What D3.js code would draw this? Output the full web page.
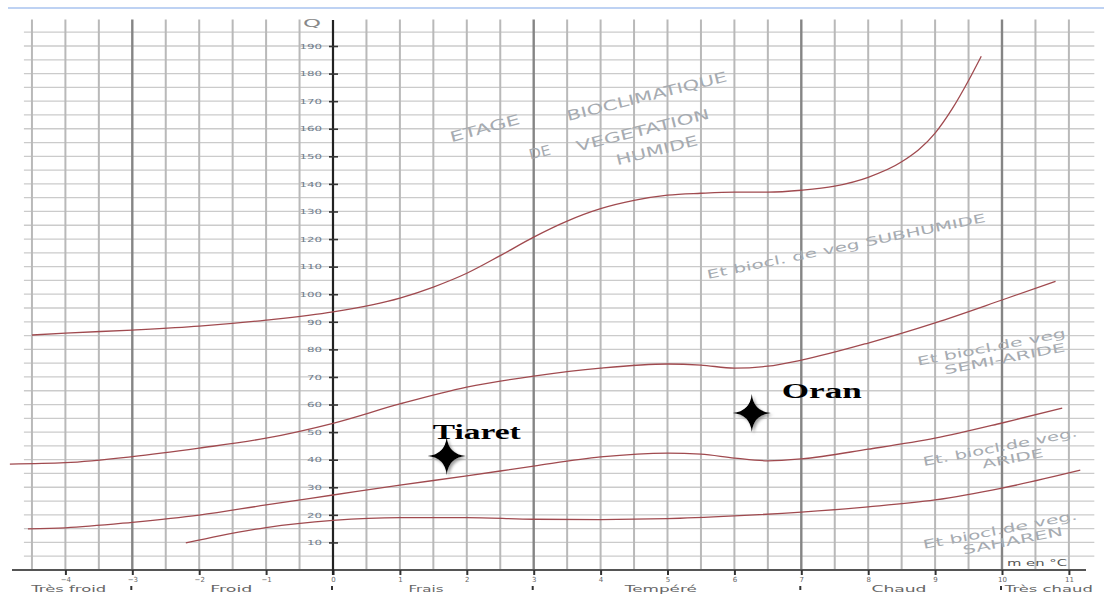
<!DOCTYPE html>
<html>
<head>
<meta charset="utf-8">
<script src="https://cdn.jsdelivr.net/npm/d3@7"></script>
<style>
  body { margin: 0; background: #fff; }
  svg { display: block; }
</style>
</head>
<body>
<svg id="chart" width="1104" height="601"></svg>
<script>
// Emberger climagram: pluviothermic quotient Q against m (mean minimum of the coldest month, °C)

// Boundary curves between bioclimatic stages, as [m, Q]
const limitHumide = [[-4.5,85.2],[-4,85.9],[-3,87],[-2,88.4],[-1,90.6],[0,93.6],[1,98.6],[1.5,102.6],[2,107.6],[2.5,114],[3,120.7],[3.5,126.5],[4,131],[4.5,134],[5,135.9],[5.5,136.6],[6,137],[6.5,137],[7,137.7],[7.5,139.2],[8,142.4],[8.5,148],[9,158.4],[9.25,167],[9.5,177.5],[9.69,186.3]];
const limitSubhumide = [[-4.83,38.4],[-4,38.9],[-3,41.1],[-2,44.2],[-1,47.8],[0,53.2],[1,60.2],[2,66.3],[3,70.3],[4,73.2],[5,74.7],[5.5,74.3],[6,73.2],[6.5,73.9],[7,76.1],[8,82.3],[9,89.6],[10,97.9],[10.8,104.7]];
const limitSemiAride = [[-4.56,14.9],[-4,15.3],[-3,17.3],[-2,19.9],[-1,23.6],[0,27.2],[1,30.8],[2,34.1],[3,37.7],[4,41],[5,42.4],[5.5,42],[6,40.6],[6.5,39.6],[7,40.3],[8,43.8],[9,47.8],[10,53.3],[10.9,58.7]];
const limitAride = [[-2.2,9.8],[-1.7,12.4],[-1,15.4],[0,18],[1,19],[2,19],[3,18.4],[4,18.3],[5,18.6],[6,19.6],[7,21],[8,22.9],[9,25.4],[10,29.7],[11.17,36.2]];

// Stations
const stationNames = ["Tiaret", "Oran"];
const stationM = [1.7, 6.26];
const stationQ = [41.3, 56.9];

// Axis ticks
const mTicks = [-4,-3,-2,-1,0,1,2,3,4,5,6,7,8,9,10,11];
const qTicks = [10,20,30,40,50,60,70,80,90,100,110,120,130,140,150,160,170,180,190];

// Thermal variants along m
const zoneNames = ["Très froid","Froid","Frais","Tempéré","Chaud","Très chaud"];
const zoneCenters = [-3.95,-1.52,1.39,4.9,8.46,10.7];
const zoneBounds = [-3,0,3,7,10];

// Stage labels (rotated text written on the diagram)
const stageLabels = [
  {t:"ETAGE", m:2.27, q:160.2, a:-15, len:72, fs:14},
  {t:"BIOCLIMATIQUE", m:4.69, q:171.8, a:-14, len:165, fs:14},
  {t:"DE", m:3.09, q:151.5, a:-14, len:22, fs:14},
  {t:"VEGETATION", m:4.63, q:159.5, a:-14, len:137, fs:14},
  {t:"HUMIDE", m:4.84, q:152.2, a:-14, len:84, fs:14},
  {t:"Et biocl. de veg SUBHUMIDE", m:7.67, q:117.4, a:-11.6, len:284, fs:12},
  {t:"Et biocl.de veg", m:9.84, q:80.8, a:-11, len:151, fs:12},
  {t:"SEMI-ARIDE", m:10.04, q:76.6, a:-11, len:123, fs:12},
  {t:"Et. biocl.de veg.", m:9.97, q:44.6, a:-11, len:157, fs:12},
  {t:"ARIDE", m:10.16, q:40.4, a:-11, len:62, fs:12},
  {t:"Et biocl.de veg.", m:9.97, q:14.5, a:-11, len:157, fs:12},
  {t:"SAHAREN", m:10.16, q:10.6, a:-11, len:102, fs:12}
];

const svg = d3.select("#chart");
const x = d3.scaleLinear().domain([0, 10]).range([333, 1002]);
const y = d3.scaleLinear().domain([0, 190]).range([570, 46]);

svg.append("rect").attr("width", 1104).attr("height", 601).attr("fill", "#fff");

// top rule
svg.append("line").attr("x1", 8).attr("x2", 1104).attr("y1", 8).attr("y2", 8)
  .attr("stroke", "#a9c3ef").attr("stroke-width", 1.5);

const defs = svg.append("defs");
const f = defs.append("filter").attr("id", "shadow").attr("x", "-50%").attr("y", "-50%").attr("width", "200%").attr("height", "200%");
f.append("feDropShadow").attr("dx", 2).attr("dy", 2).attr("stdDeviation", 1.6).attr("flood-color", "#777").attr("flood-opacity", 0.7);

// grid
const grid = svg.append("g");
grid.selectAll("line.h").data(d3.range(5, 196, 5)).join("line")
  .attr("x1", x(-4.62)).attr("x2", x(11.38))
  .attr("y1", d => y(d)).attr("y2", d => y(d))
  .attr("stroke", "#cbcbcb").attr("stroke-width", 1.3);
grid.selectAll("line.v").data(d3.range(-4.5, 11.01, 0.5).filter(v => v !== 0)).join("line")
  .attr("x1", d => x(d)).attr("x2", d => x(d))
  .attr("y1", y(199.6)).attr("y2", y(0))
  .attr("stroke", d => zoneBounds.includes(d) ? "#858585" : "#b9b9b9")
  .attr("stroke-width", d => zoneBounds.includes(d) ? 2.4 : 2);

// x axis line
svg.append("line").attr("x1", 12).attr("x2", 1086).attr("y1", y(0)).attr("y2", y(0))
  .attr("stroke", "#555").attr("stroke-width", 2);

// x ticks
const xAxis = svg.append("g").attr("transform", `translate(0,${y(0)})`)
  .call(d3.axisBottom(x).tickValues(mTicks).tickSize(5).tickPadding(2).tickFormat(d3.format("d")));
xAxis.select(".domain").remove();
xAxis.selectAll(".tick line").attr("stroke", "#333").attr("stroke-width", 2);
xAxis.selectAll(".tick text").attr("fill", "#666").attr("font-size", 7).attr("font-family", "DejaVu Sans");

// y axis (Q)
svg.append("line").attr("x1", x(0)).attr("x2", x(0)).attr("y1", 20).attr("y2", 575)
  .attr("stroke", "#222").attr("stroke-width", 2.2);
const yAxis = svg.append("g").attr("transform", `translate(${x(0)},0)`)
  .call(d3.axisLeft(y).tickValues(qTicks).tickSize(4).tickPadding(7));
yAxis.select(".domain").remove();
yAxis.selectAll(".tick line").attr("x1", -4).attr("x2", 5).attr("stroke", "#333").attr("stroke-width", 1.6);
yAxis.selectAll(".tick text").attr("fill", "#6e7c8c").attr("font-size", 7).attr("font-family", "DejaVu Sans")
  .attr("textLength", d => String(d).length * 7.5).attr("lengthAdjust", "spacingAndGlyphs");

svg.append("text").attr("x", 303).attr("y", 27)
  .attr("font-family", "DejaVu Sans").attr("font-size", 11).attr("fill", "#888")
  .attr("textLength", 18).attr("lengthAdjust", "spacingAndGlyphs").text("Q");
svg.append("text").attr("x", 1007).attr("y", 566)
  .attr("font-family", "DejaVu Sans").attr("font-size", 9).attr("fill", "#555")
  .attr("textLength", 60).attr("lengthAdjust", "spacingAndGlyphs").text("m en °C");

// thermal variants
const zoneWidths = [75, 42, 35, 72, 55, 88];
svg.selectAll("text.zone").data(zoneNames).join("text")
  .attr("x", (d, i) => x(zoneCenters[i])).attr("y", 592).attr("text-anchor", "middle")
  .attr("textLength", (d, i) => zoneWidths[i]).attr("lengthAdjust", "spacingAndGlyphs")
  .attr("font-family", "DejaVu Sans").attr("font-size", 9.5).attr("fill", "#666").text(d => d);
svg.selectAll("line.zb").data(zoneBounds).join("line")
  .attr("x1", d => x(d) - 1).attr("x2", d => x(d) - 1).attr("y1", 586).attr("y2", 590)
  .attr("stroke", "#333").attr("stroke-width", 2);

// stage labels
svg.selectAll("text.stage").data(stageLabels).join("text")
  .attr("transform", d => `translate(${x(d.m)},${y(d.q)}) rotate(${d.a})`)
  .attr("text-anchor", "middle").attr("dy", "0.35em")
  .attr("textLength", d => d.len).attr("lengthAdjust", "spacingAndGlyphs")
  .attr("font-family", "DejaVu Sans").attr("font-size", d => d.fs)
  .attr("fill", "#a6abb1").text(d => d.t);

// boundary curves
const line = d3.line().x(d => x(d[0])).y(d => y(d[1])).curve(d3.curveMonotoneX);
svg.selectAll("path.limit").data([limitHumide, limitSubhumide, limitSemiAride, limitAride]).join("path")
  .attr("d", line).attr("fill", "none").attr("stroke", "#a04a4f").attr("stroke-width", 1.3);

// stations: four-point star with name
const star = (rx, ry, w) => `M0,${-ry}Q${w},${-w} ${rx},0Q${w},${w} 0,${ry}Q${-w},${w} ${-rx},0Q${-w},${-w} 0,${-ry}Z`;
const labelOffset = [[-14, -17], [30, -15]];
const labelWidth = [88, 80];
const st = svg.selectAll("g.station").data(stationNames).join("g")
  .attr("transform", (d, i) => `translate(${x(stationM[i])},${y(stationQ[i])})`);
st.append("path").attr("d", star(19, 19, 1.8)).attr("fill", "#000").attr("filter", "url(#shadow)");
st.append("text").attr("x", (d, i) => labelOffset[i][0]).attr("y", (d, i) => labelOffset[i][1])
  .attr("textLength", (d, i) => labelWidth[i]).attr("lengthAdjust", "spacingAndGlyphs")
  .attr("font-family", "Liberation Serif").attr("font-weight", "bold").attr("font-size", 22)
  .attr("fill", "#000").text(d => d);
</script>
</body>
</html>
